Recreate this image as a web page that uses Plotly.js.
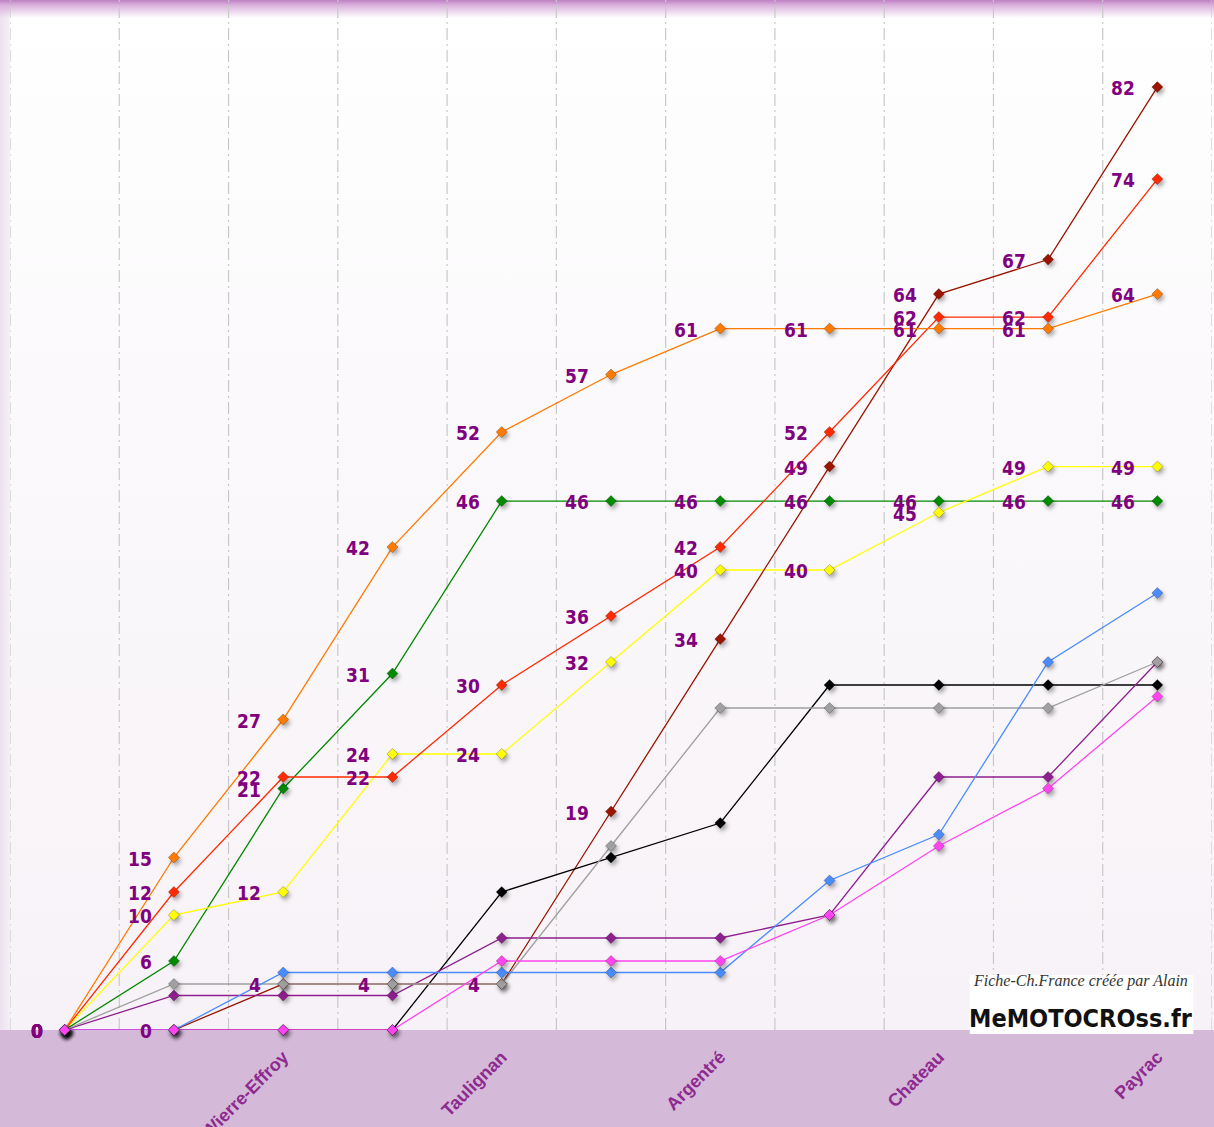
<!DOCTYPE html>
<html><head><meta charset="utf-8">
<script src="https://cdn.plot.ly/plotly-3.0.1.min.js"></script>
<style>
html,body{margin:0;padding:0;background:#fff;}
#wrap{position:relative;width:1214px;height:1127px;overflow:hidden;}
.bg{position:absolute;}
#bgPlot{left:0;top:0;width:1214px;height:1030px;background:linear-gradient(to bottom,#ffffff 0%,#fbf9fb 40%,#f7f2f7 100%);}
#bgLeft{left:0;top:0;width:10px;height:1030px;background:linear-gradient(to right,#ece1ef,#f5eff6);}
#bgTop{left:0;top:0;width:1214px;height:18px;background:linear-gradient(to bottom,#bf80c4 0px,#d9b0dc 5px,rgba(255,255,255,0) 18px);}
#bgBottom{left:0;top:1030px;width:1214px;height:97px;background:#d4b9d9;}
#chart{position:absolute;left:0;top:0;width:1214px;height:1127px;}
.scatterlayer .trace .points path{filter:drop-shadow(2px 3px 2px rgba(0,0,0,0.35));}
</style>
</head><body>
<div id="wrap">
<div class="bg" id="bgPlot"></div>
<div class="bg" id="bgLeft"></div>
<div class="bg" id="bgTop"></div>
<div class="bg" id="bgBottom"></div>
<div id="chart"></div>
</div>
<script>
// race index (0 = start, then two races per meeting)
const rounds = [0,1,2,3,4,5,6,7,8,9,10];
const tickPositions = [2,4,6,8,10];
const tickLabels = ["Wierre-Effroy","Taulignan","Argentré","Chateau","Payrac"];

// cumulative points per rider
const orange  = [0,15,27,42,52,57,61,61,61,61,64];
const red     = [0,12,22,22,30,36,42,52,62,62,74];
const yellow  = [0,10,12,24,24,32,40,40,45,49,49];
const green   = [0,6,21,31,46,46,46,46,46,46,46];
const darkred = [0,0,4,4,4,19,34,49,64,67,82];
const black   = [0,0,0,0,12,15,18,30,30,30,30];
const gray    = [0,4,4,4,4,16,28,28,28,28,32];
const purple  = [0,3,3,3,8,8,8,10,22,22,32];
const blue    = [0,0,5,5,5,5,5,13,17,32,38];
const pink    = [0,0,0,0,6,6,6,10,16,21,29];

const series = [
  {y: green,   color:'#008a00', label:true},
  {y: yellow,  color:'#ffff00', label:true},
  {y: darkred, color:'#9a1400', label:true},
  {y: red,     color:'#ff2a00', label:true},
  {y: orange,  color:'#ff7a00', label:true},
  {y: black,   color:'#000000', label:false},
  {y: purple,  color:'#8e1f8e', label:false},
  {y: gray,    color:'#a0a0a0', label:false},
  {y: blue,    color:'#4a8cff', label:false},
  {y: pink,    color:'#ff44f0', label:false}
];

const traces = series.map(s => ({
  type:'scatter', mode:'lines+markers', x: rounds, y: s.y,
  line:{color:s.color, width:1.3},
  marker:{symbol:'diamond', size:8.5, color:s.color, line:{color:'rgba(0,0,0,0.3)', width:0.8}},
  cliponaxis:false, hoverinfo:'skip', showlegend:false
}));

const labelFont = {family:'"DejaVu Sans Condensed", "Liberation Sans Narrow", sans-serif', size:19, color:'#800080', weight:700, stretch:'condensed'};
const annotations = [];
series.forEach(s => {
  if (!s.label) return;
  s.y.forEach((v,i) => {
    annotations.push({x: rounds[i], y: v, xref:'x', yref:'y', text: String(v), showarrow:false,
      xanchor:'right', yanchor:'middle', xshift:-20, yshift:-1, font: labelFont});
  });
});

// watermark box
annotations.push({xref:'paper', yref:'paper', x:0.8908, y:0.0475, xanchor:'center', yanchor:'middle', showarrow:false,
  text:'<i>Fiche-Ch.France créée par Alain</i>',
  font:{family:'"Liberation Serif", serif', size:16, color:'#333333'}});
annotations.push({xref:'paper', yref:'paper', x:0.8908, y:0.0115, xanchor:'center', yanchor:'middle', showarrow:false,
  text:'<b>MeMOTOCROss.fr</b>',
  font:{family:'"DejaVu Sans Condensed", sans-serif', size:25, color:'#111111', stretch:'condensed'}});

const shapes = rounds.concat([rounds.length]).map(i => ({
  type:'line', xref:'x', yref:'paper', x0:i-0.5, x1:i-0.5, y0:0, y1:1, layer:'below',
  line:{color:'#c9c9c9', width:1.2, dash:'12px,4px,2px,4px'}
}));
shapes.push({type:'rect', xref:'paper', yref:'paper', x0:0.7985, x1:0.9845, y0:-0.004, y1:0.0535,
  fillcolor:'#ffffff', line:{width:0}, layer:'below'});

const layout = {
  width:1214, height:1127,
  margin:{l:10, r:2, t:0, b:97, pad:0},
  paper_bgcolor:'rgba(0,0,0,0)', plot_bgcolor:'rgba(0,0,0,0)',
  xaxis:{range:[-0.5,10.5], tickmode:'array', tickvals:tickPositions, ticktext:tickLabels,
    tickangle:-45, showgrid:false, zeroline:false, showline:false, ticks:'', fixedrange:true,
    ticklabelstandoff:12,
    tickfont:{family:'"Liberation Sans", Arial, sans-serif', size:18, color:'#8e2a8e', weight:700}},
  yaxis:{range:[0,89.57], showgrid:false, zeroline:false, showline:false, showticklabels:false, ticks:'', fixedrange:true},
  annotations: annotations,
  shapes: shapes,
  showlegend:false
};

Plotly.newPlot('chart', traces, layout, {displayModeBar:false, staticPlot:true});
</script>
</body></html>
